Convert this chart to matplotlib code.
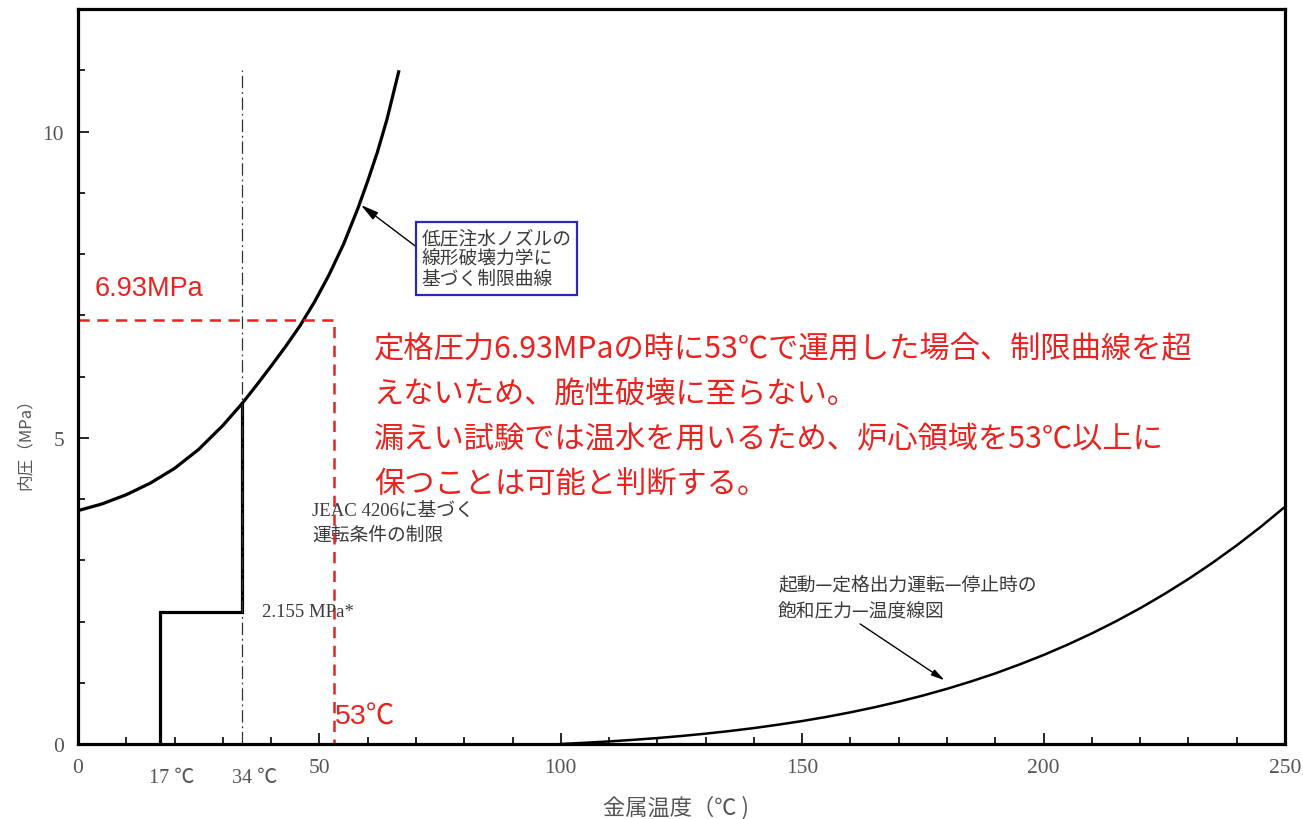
import numpy as np
import matplotlib.pyplot as plt
from matplotlib.ticker import MultipleLocator

plt.rcParams['font.family'] = ['Noto Sans CJK JP', 'DejaVu Sans']

# limit curve from linear fracture mechanics (temperature degC, pressure MPa)
limit_t = [0, 5, 10, 15, 20, 25, 30, 34, 37, 40, 43, 46, 49, 52, 55, 58, 60, 62, 64, 66.5]
limit_p = [3.81, 3.92, 4.07, 4.26, 4.50, 4.81, 5.20, 5.56, 5.86, 6.17, 6.49, 6.83,
           7.22, 7.66, 8.16, 8.75, 9.19, 9.66, 10.20, 11.0]

# saturation pressure (gauge) during startup / rated operation / shutdown
sat_t = [100, 105, 110, 115, 120, 125, 130, 135, 140, 145, 150, 155, 160, 165,
         170, 175, 180, 185, 190, 195, 200, 205, 210, 215, 220, 225, 230, 235,
         240, 245, 250]
sat_p = [0.0, 0.020, 0.042, 0.068, 0.097, 0.131, 0.169, 0.212, 0.260, 0.315,
         0.375, 0.442, 0.517, 0.600, 0.691, 0.791, 0.901, 1.022, 1.153, 1.298,
         1.453, 1.623, 1.806, 2.004, 2.217, 2.447, 2.694, 2.959, 3.243, 3.547,
         3.873]

# JEAC 4206 operating restriction (step)
step_t = [17, 17, 34, 34]
step_p = [0, 2.155, 2.155, 5.56]

rated_p = 6.93
hold_t = 53
ref_t = 34

xtick_vals = [0, 50, 100, 150, 200, 250]
ytick_vals = [0, 5, 10]

msg_lines = [
    '定格圧力6.93MPaの時に53℃で運用した場合、制限曲線を超',
    'えないため、脆性破壊に至らない。',
    '漏えい試験では温水を用いるため、炉心領域を53℃以上に',
    '保つことは可能と判断する。',
]

fig = plt.figure(figsize=(13.03, 8.2), dpi=100)
ax = fig.add_axes([78 / 1303, 75 / 820, 1207 / 1303, 735 / 820])
ax.set_xlim(0, 250)
ax.set_ylim(0, 12)

for s in ax.spines.values():
    s.set_linewidth(2.3)

ax.set_xticks(xtick_vals)
ax.set_yticks(ytick_vals)
ax.xaxis.set_minor_locator(MultipleLocator(10))
ax.yaxis.set_minor_locator(MultipleLocator(1))
ax.tick_params(which='both', direction='in', width=1.2, colors='black',
               labelcolor='#555555', labelsize=15.5, pad=10)
ax.tick_params(which='major', length=8)
ax.tick_params(which='minor', length=5)
for lab in ax.get_xticklabels() + ax.get_yticklabels():
    lab.set_fontfamily('Liberation Serif')

serif_jp = ['Liberation Serif', 'Noto Sans CJK JP']
sans_jp = ['Liberation Sans', 'Noto Sans CJK JP']
gray = '#3a3a3a'

def py(pix):
    # pixel row of the canvas -> pressure value
    return (745 - pix) / 61.2

# extra temperature marks below the axis
for t in (17, 34):
    ax.text(t + 2.5, -0.4, f'{t} ℃', ha='center', va='top', fontsize=14.5,
            color='#555555', family=serif_jp)

# curves
ax.plot(limit_t, limit_p, color='black', lw=2.3, solid_capstyle='butt')
ax.plot(sat_t, sat_p, color='black', lw=1.8)
ax.plot(step_t, step_p, color='black', lw=2.3, solid_joinstyle='miter')
ax.plot([ref_t, ref_t], [0, 11.0], color='#333333', lw=0.9,
        linestyle=(0, (10, 3, 1.5, 3)))

# rated pressure / holding temperature guide lines
red = '#e8231f'
ax.plot([0, hold_t, hold_t], [rated_p, rated_p, 0], color=red, lw=1.8,
        linestyle=(0, (4.5, 3)))
ax.text(3.5, rated_p + 0.3, f'{rated_p}MPa', color=red, fontsize=19.5,
        ha='left', va='bottom', family=sans_jp)
ax.text(hold_t + 0.3, 0.44, f'{hold_t}℃', color=red, fontsize=20.5,
        ha='left', va='center', family=sans_jp)

for i, line in enumerate(msg_lines):
    ax.text(61.3, py(350 + 45 * i), line, color=red, fontsize=21.8,
            ha='left', va='center')

# annotations
ax.annotate('低圧注水ノズルの\n線形破壊力学に\n基づく制限曲線',
            xy=(58.6, 8.8), xytext=(71.2, 7.93),
            fontsize=13.5, color=gray, ha='left', va='center', linespacing=0.95,
            bbox=dict(boxstyle='square,pad=0.3', fc='white', ec='#2a2ab0', lw=1.6),
            arrowprops=dict(arrowstyle='-|>,head_length=0.8,head_width=0.2',
                            color='black', lw=1.0, shrinkA=0, shrinkB=0,
                            relpos=(0, 0.62)))

ax.text(48.5, py(511), 'JEAC 4206に基づく', fontsize=13.5,
        color=gray, ha='left', va='center', family=serif_jp, zorder=1)
ax.text(48.5, py(536), '運転条件の制限', fontsize=13.5,
        color=gray, ha='left', va='center', family=serif_jp, zorder=1)
ax.text(38.2, 2.17, '2.155 MPa*', fontsize=13.5, color=gray,
        ha='left', va='center', family=serif_jp)

ax.text(145, py(585), '起動—定格出力運転—停止時の', fontsize=13.5,
        color=gray, ha='left', va='center')
ax.text(145, py(612), '飽和圧力—温度線図', fontsize=13.5,
        color=gray, ha='left', va='center')
ax.annotate('', xy=(179.5, 1.04), xytext=(162, 1.96),
            arrowprops=dict(arrowstyle='-|>,head_length=0.8,head_width=0.2',
                            color='black', lw=1.0, shrinkA=0, shrinkB=0))

# axis titles
fig.text(25 / 1303, 1 - 440 / 820, '内圧（MPa）', rotation=90, fontsize=12,
         color='#555555', ha='center', va='center')
fig.text(676 / 1303, 1 - 808 / 820, '金属温度（℃ )', fontsize=16,
         color='#555555', ha='center', va='center')

fig.savefig('out.png', dpi=100)
